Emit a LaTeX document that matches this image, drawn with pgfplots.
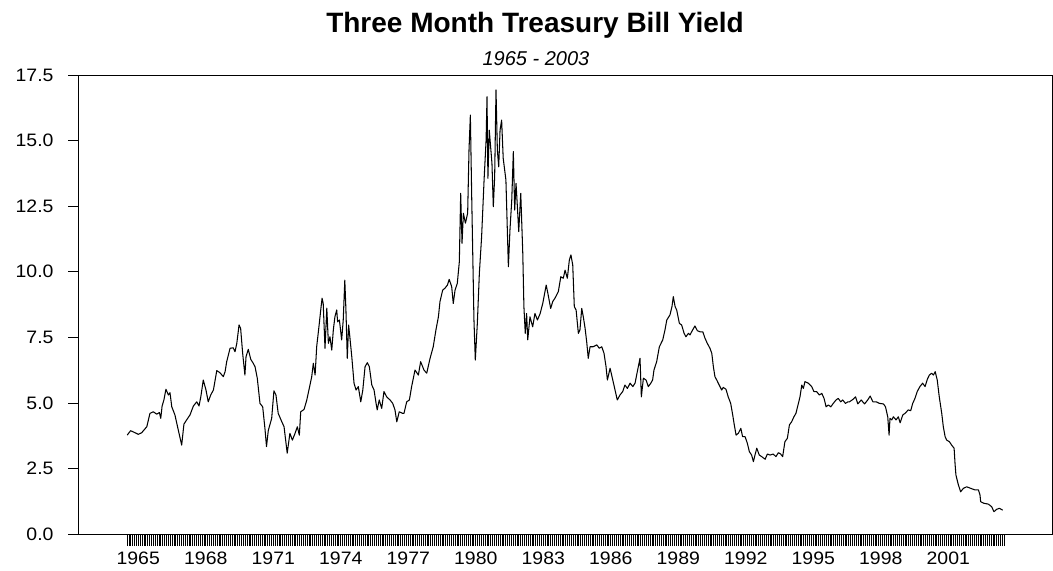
\documentclass[border=0pt]{standalone}
\usepackage{fontspec}
\setmainfont{Liberation Sans}
\newfontfamily\tickfont{Liberation Sans}[FakeStretch=1.08]
\usepackage{pgfplots}
\pgfplotsset{compat=1.18}
\usepackage{pgfplotstable}
\pgfplotstableread{
t v
1965.01 3.77
1965.16 3.94
1965.36 3.86
1965.50 3.80
1965.65 3.86
1965.88 4.09
1966.02 4.60
1966.17 4.66
1966.32 4.57
1966.44 4.63
1966.50 4.41
1966.56 4.88
1966.64 5.11
1966.73 5.52
1966.84 5.30
1966.91 5.39
1966.99 4.85
1967.13 4.54
1967.28 3.96
1967.43 3.39
1967.53 4.19
1967.65 4.35
1967.80 4.54
1967.95 4.88
1968.10 5.04
1968.20 4.88
1968.28 5.23
1968.39 5.87
1968.51 5.49
1968.61 5.04
1968.72 5.30
1968.84 5.49
1968.99 6.23
1969.13 6.15
1969.28 6.00
1969.36 6.19
1969.43 6.57
1969.58 7.08
1969.72 7.10
1969.80 6.95
1969.88 7.27
1969.98 7.97
1970.05 7.84
1970.14 6.89
1970.24 6.06
1970.29 6.76
1970.39 7.04
1970.50 6.66
1970.61 6.51
1970.69 6.38
1970.79 5.94
1970.91 4.98
1971.03 4.85
1971.13 4.03
1971.20 3.33
1971.28 3.95
1971.43 4.41
1971.53 5.46
1971.62 5.30
1971.72 4.60
1971.88 4.28
1971.98 4.09
1972.12 3.08
1972.24 3.84
1972.35 3.58
1972.47 3.84
1972.57 4.09
1972.66 3.77
1972.72 4.66
1972.87 4.75
1972.99 5.11
1973.10 5.55
1973.21 6.00
1973.28 6.51
1973.36 6.06
1973.43 7.14
1973.53 7.90
1973.61 8.54
1973.67 8.99
1973.72 8.79
1973.80 7.08
1973.88 8.61
1973.95 7.27
1974.02 7.52
1974.10 7.01
1974.17 7.78
1974.24 8.28
1974.32 8.54
1974.36 8.09
1974.44 8.16
1974.54 7.40
1974.61 8.16
1974.68 9.68
1974.73 8.54
1974.79 6.70
1974.85 7.97
1974.91 7.46
1974.99 6.76
1975.09 5.75
1975.18 5.49
1975.28 5.62
1975.39 5.04
1975.48 5.49
1975.58 6.38
1975.68 6.53
1975.77 6.38
1975.88 5.68
1975.98 5.49
1976.07 4.98
1976.12 4.73
1976.21 5.11
1976.32 4.79
1976.42 5.43
1976.54 5.23
1976.69 5.11
1976.81 4.98
1976.91 4.73
1976.99 4.28
1977.10 4.66
1977.25 4.60
1977.31 4.60
1977.43 5.04
1977.55 5.11
1977.65 5.62
1977.80 6.25
1977.95 6.06
1978.05 6.57
1978.20 6.25
1978.32 6.13
1978.47 6.70
1978.61 7.14
1978.73 7.78
1978.84 8.28
1978.91 8.86
1979.03 9.30
1979.13 9.37
1979.24 9.49
1979.32 9.71
1979.43 9.43
1979.50 8.79
1979.58 9.30
1979.68 9.56
1979.77 10.38
1979.83 12.99
1979.89 11.08
1979.95 12.23
1980.04 11.85
1980.14 12.23
1980.20 14.64
1980.26 15.97
1980.32 12.86
1980.42 8.16
1980.48 6.63
1980.57 8.03
1980.66 9.94
1980.76 11.33
1980.87 13.50
1980.96 15.02
1981.00 16.67
1981.04 13.56
1981.10 15.40
1981.16 14.77
1981.22 14.13
1981.28 12.48
1981.34 13.62
1981.40 16.93
1981.46 14.64
1981.52 14.00
1981.58 15.40
1981.65 15.78
1981.72 14.32
1981.84 13.50
1981.95 10.19
1982.02 11.59
1982.10 12.73
1982.17 14.58
1982.23 12.35
1982.29 13.37
1982.35 12.48
1982.41 11.53
1982.50 12.99
1982.59 10.70
1982.64 8.67
1982.70 7.65
1982.76 8.41
1982.81 7.40
1982.91 8.28
1983.03 7.90
1983.13 8.41
1983.24 8.16
1983.36 8.40
1983.48 8.80
1983.63 9.49
1983.70 9.20
1983.83 8.60
1983.92 8.86
1984.02 8.99
1984.17 9.24
1984.28 9.81
1984.39 9.75
1984.47 10.06
1984.57 9.75
1984.66 10.45
1984.73 10.64
1984.81 10.26
1984.88 8.67
1984.96 8.54
1985.06 7.65
1985.13 7.78
1985.21 8.60
1985.28 8.28
1985.36 7.84
1985.43 7.33
1985.50 6.70
1985.58 7.14
1985.72 7.14
1985.88 7.21
1985.99 7.08
1986.10 7.14
1986.20 6.89
1986.29 6.38
1986.35 5.87
1986.47 6.32
1986.59 5.87
1986.69 5.49
1986.79 5.11
1986.91 5.30
1987.03 5.43
1987.13 5.68
1987.24 5.55
1987.36 5.75
1987.48 5.62
1987.58 5.75
1987.68 6.19
1987.80 6.70
1987.86 5.23
1987.95 5.94
1988.07 5.87
1988.17 5.62
1988.28 5.75
1988.36 5.87
1988.42 6.25
1988.54 6.57
1988.66 7.14
1988.81 7.40
1988.91 7.78
1988.99 8.16
1989.13 8.35
1989.22 8.67
1989.28 9.05
1989.36 8.67
1989.43 8.54
1989.55 8.03
1989.65 7.97
1989.76 7.65
1989.84 7.52
1989.95 7.65
1990.02 7.59
1990.14 7.78
1990.24 7.93
1990.35 7.75
1990.47 7.71
1990.59 7.71
1990.69 7.46
1990.79 7.27
1990.91 7.08
1990.99 6.89
1991.06 6.38
1991.13 6.00
1991.21 5.87
1991.32 5.68
1991.43 5.49
1991.50 5.59
1991.62 5.52
1991.72 5.23
1991.83 4.98
1991.92 4.54
1991.99 4.16
1992.07 3.77
1992.17 3.84
1992.28 4.03
1992.36 3.71
1992.47 3.71
1992.57 3.46
1992.66 3.14
1992.76 3.01
1992.84 2.76
1992.91 3.01
1992.99 3.27
1993.10 3.01
1993.21 2.95
1993.36 2.85
1993.46 3.05
1993.58 3.01
1993.72 3.05
1993.84 2.95
1993.95 3.10
1994.05 3.05
1994.14 2.95
1994.24 3.52
1994.35 3.65
1994.44 4.16
1994.54 4.28
1994.64 4.47
1994.73 4.60
1994.84 4.98
1994.91 5.23
1994.99 5.68
1995.06 5.55
1995.13 5.81
1995.28 5.75
1995.43 5.62
1995.53 5.43
1995.65 5.43
1995.77 5.30
1995.88 5.36
1995.98 5.17
1996.07 4.85
1996.17 4.92
1996.28 4.85
1996.39 4.98
1996.51 5.11
1996.61 5.17
1996.72 5.04
1996.81 5.11
1996.93 4.98
1997.04 5.04
1997.11 5.04
1997.26 5.13
1997.38 5.23
1997.48 4.96
1997.63 5.11
1997.78 4.96
1997.92 5.11
1998.03 5.26
1998.15 5.04
1998.30 5.04
1998.44 4.98
1998.62 4.96
1998.71 4.85
1998.81 4.47
1998.87 3.77
1998.91 4.41
1998.99 4.35
1999.06 4.47
1999.18 4.35
1999.28 4.47
1999.36 4.24
1999.48 4.54
1999.58 4.60
1999.72 4.73
1999.83 4.70
1999.92 4.98
2000.02 5.17
2000.12 5.43
2000.24 5.62
2000.36 5.75
2000.47 5.62
2000.57 5.90
2000.66 6.06
2000.76 6.13
2000.84 6.06
2000.92 6.19
2001.01 5.87
2001.10 5.23
2001.21 4.60
2001.28 4.09
2001.36 3.71
2001.43 3.58
2001.55 3.52
2001.65 3.39
2001.76 3.27
2001.80 2.70
2001.84 2.25
2001.95 1.87
2002.05 1.61
2002.17 1.74
2002.32 1.80
2002.50 1.74
2002.69 1.68
2002.84 1.68
2002.91 1.49
2002.94 1.23
2003.09 1.17
2003.28 1.14
2003.43 1.04
2003.53 0.85
2003.65 0.94
2003.77 0.98
2003.92 0.91
}\tbill
\begin{document}
\begin{tikzpicture}
\useasboundingbox (0,0) rectangle (1053bp,-571bp);
\begin{axis}[
  at={(78bp,-534bp)}, anchor=south west,
  scale only axis, width=974bp, height=459bp,
  xmin=1962.822, xmax=2006.111,
  ymin=0, ymax=17.5,
  axis line style={black, line width=0.8bp},
  tick align=outside,
  major tick length=10bp,
  minor tick length=12bp,
  every tick/.style={black, line width=0.6bp},
  every major x tick/.append style={draw=none},
  xtick={1965.5,1968.5,1971.5,1974.5,1977.5,1980.5,1983.5,1986.5,1989.5,1992.5,1995.5,1998.5,2001.5},
  xticklabels={1965,1968,1971,1974,1977,1980,1983,1986,1989,1992,1995,1998,2001},
  minor xtick={1965,1965.0833333,...,2003.95},
  xtick pos=bottom, ytick pos=left,
  ytick={0,2.5,5,7.5,10,12.5,15,17.5},
  yticklabels={0.0,2.5,5.0,7.5,10.0,12.5,15.0,17.5},
  /pgf/number format/assume math mode=true,
  ticklabel style={font=\tickfont\fontsize{18bp}{20bp}\selectfont},
  xticklabel style={yshift=-4bp},
  yticklabel style={xshift=-11bp},
]
\addplot[black, line width=1.05bp, line join=round] table[x=t, y=v] {\tbill};
\end{axis}
\node[anchor=base, font=\bfseries\fontsize{28bp}{32bp}\selectfont] at (535bp,-32bp) {Three Month Treasury Bill Yield};
\node[anchor=base, font=\itshape\fontsize{20bp}{24bp}\selectfont] at (536bp,-65bp) {1965 - 2003};
\end{tikzpicture}
\end{document}
